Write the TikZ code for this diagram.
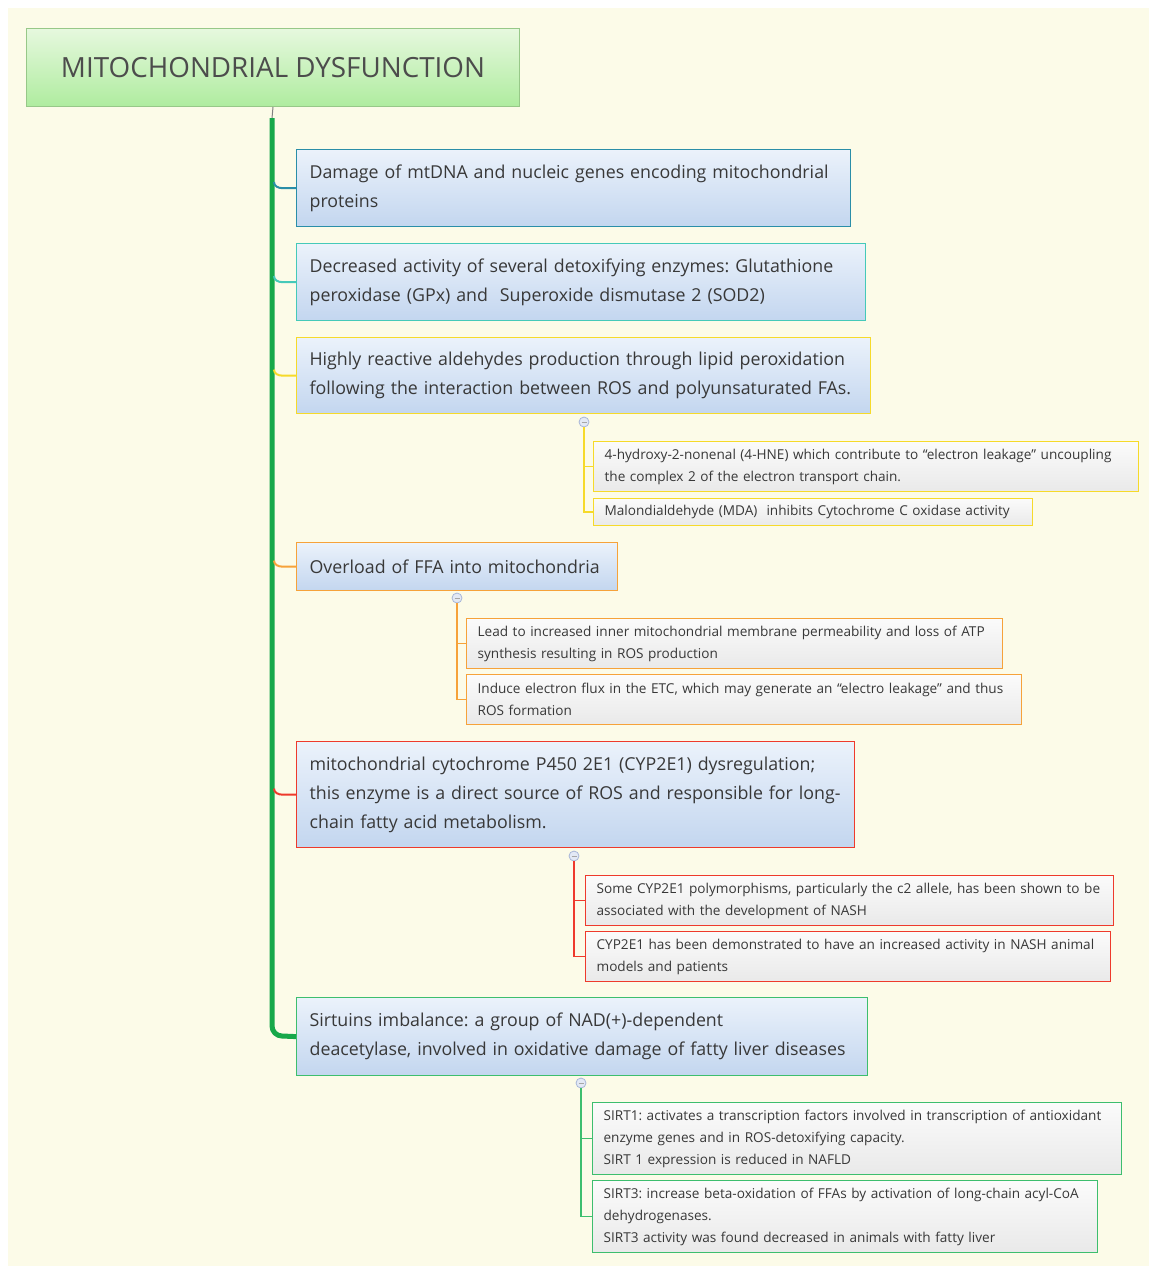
\documentclass[tikz,border=0pt]{standalone}
\usepackage{fontspec}
\setmainfont{Open Sans}
\frenchspacing
\definecolor{cream}{HTML}{FCFBE8}
\definecolor{txt}{HTML}{383838}
\definecolor{titletop}{HTML}{E6F8DE}
\definecolor{titlebot}{HTML}{AFEC9F}
\definecolor{titleborder}{HTML}{97C888}
\definecolor{bigtop}{HTML}{EBF2FB}
\definecolor{bigbot}{HTML}{C3D6EF}
\definecolor{smalltop}{HTML}{FBFBFB}
\definecolor{smallbot}{HTML}{E9E9E9}
\definecolor{trunkgreen}{HTML}{17A84A}
\definecolor{bA}{HTML}{2A8EA8}
\definecolor{bB}{HTML}{45C9B9}
\definecolor{bC}{HTML}{F6DA2A}
\definecolor{bD}{HTML}{F6A23A}
\definecolor{bE}{HTML}{EE3A2C}
\definecolor{bF}{HTML}{3DBE6E}
\definecolor{knob}{HTML}{E3E9F5}
\definecolor{knobborder}{HTML}{A8B6D8}
\tikzset{
  bigbox/.style={draw, line width=1.2pt, top color=bigtop, bottom color=bigbot,
    anchor=north west, inner xsep=13pt, inner ysep=0pt, text=txt, align=left,
    font=\fontsize{17.8}{29}\selectfont\frenchspacing},
  smallbox/.style={draw, line width=1.2pt, top color=smalltop, bottom color=smallbot,
    anchor=north west, inner xsep=11pt, inner ysep=0pt, text=txt, align=left,
    font=\fontsize{13.6}{22}\selectfont\frenchspacing},
  branch/.style={line width=2pt},
  twig/.style={line width=1.4pt},
  knobnode/.style={circle, draw=knobborder, fill=knob, line width=0.8pt,
    minimum size=10pt, inner sep=0pt},
  minus/.style={draw=gray!70, line width=0.9pt}
}
\begin{document}
\begin{tikzpicture}[x=1pt,y=-1pt]
\useasboundingbox (0,0) rectangle (1149,1266);
\fill[cream] (8,8) rectangle (1149,1266);

% title
\node[draw=titleborder, line width=1pt, top color=titletop, bottom color=titlebot,
  anchor=north west, minimum width=493pt, minimum height=78pt, inner sep=0pt,
  text=txt!90, font=\fontsize{27.8}{32}\selectfont] (title) at (26,28)
  {MITOCHONDRIAL DYSFUNCTION};

% main boxes
\node[bigbox, draw=bA, text width=528pt, minimum height=77pt] (n1) at (296,149)
  {Damage of mtDNA and nucleic genes encoding mitochondrial\\proteins};
\node[bigbox, draw=bB, text width=543pt, minimum height=77pt] (n2) at (296,243)
  {Decreased activity of several detoxifying enzymes: Glutathione\\peroxidase (GPx) and\ \ Superoxide dismutase 2 (SOD2)};
\node[bigbox, draw=bC, text width=548pt, minimum height=76pt] (n3) at (296,337)
  {Highly reactive aldehydes production through lipid peroxidation\\following the interaction between ROS and polyunsaturated FAs.};
\node[bigbox, draw=bD, text width=295pt, minimum height=48pt] (n4) at (296,542)
  {Overload of FFA into mitochondria};
\node[bigbox, draw=bE, text width=532pt, minimum height=106pt] (n5) at (296,741)
  {\mbox{mitochondrial cytochrome P450 2E1 (CYP2E1) dysregulation;}\\\mbox{this enzyme is a direct source of ROS and responsible for long-}\\\mbox{chain fatty acid metabolism.}};
\node[bigbox, draw=bF, text width=545pt, minimum height=78pt] (n6) at (296,997)
  {Sirtuins imbalance: a group of NAD(+)-dependent\\deacetylase, involved in oxidative damage of fatty liver diseases};

% trunk
\coordinate (tt) at (272,118);
\coordinate (tb) at (272,1026);
\draw[gray, line width=1pt] (title.south) -- (tt);
\draw[trunkgreen, line width=5pt] (tt) -- (tb) to[out=-90,in=180] (282,1036) -- (n6.west);

% branch connectors
\foreach \n/\c in {n1/bA, n2/bB, n3/bC, n4/bD, n5/bE}{
  \coordinate (j\n) at (tt |- \n.west);
  \draw[branch, \c] (j\n) ++(2,-6) to[out=-90,in=180] ++(8,6) -- (\n.west);
}

% children of n3
\node[smallbox, draw=bC, text width=523pt, minimum height=50pt] (c3a) at (593,441)
  {4-hydroxy-2-nonenal (4-HNE) which contribute to “electron leakage” uncoupling\\the complex 2 of the electron transport chain.};
\node[smallbox, draw=bC, text width=417pt, minimum height=27pt] (c3b) at (593,498)
  {Malondialdehyde (MDA)\ \ inhibits Cytochrome C oxidase activity};
\node[knobnode] (k3) at (584,422) {};
\draw[twig, bC] (k3.south) |- (c3b.west);
\draw[twig, bC] (k3 |- c3a.west) -- (c3a.west);
\draw[minus] ([xshift=-2.5pt]k3.center) -- ([xshift=2.5pt]k3.center);

% children of n4
\node[smallbox, draw=bD, text width=514pt, minimum height=50pt] (c4a) at (466,618)
  {Lead to increased inner mitochondrial membrane permeability and loss of ATP\\synthesis resulting in ROS production};
\node[smallbox, draw=bD, text width=533pt, minimum height=50pt] (c4b) at (466,674)
  {Induce electron flux in the ETC, which may generate an “electro leakage” and thus\\ROS formation};
\node[knobnode] (k4) at (457,598) {};
\draw[twig, bD] (k4.south) |- (c4b.west);
\draw[twig, bD] (k4 |- c4a.west) -- (c4a.west);
\draw[minus] ([xshift=-2.5pt]k4.center) -- ([xshift=2.5pt]k4.center);

% children of n5
\node[smallbox, draw=bE, text width=506pt, minimum height=50pt] (c5a) at (585,875)
  {Some CYP2E1 polymorphisms, particularly the c2 allele, has been shown to be\\associated with the development of NASH};
\node[smallbox, draw=bE, text width=503pt, minimum height=50pt] (c5b) at (585,931)
  {CYP2E1 has been demonstrated to have an increased activity in NASH animal\\models and patients};
\node[knobnode] (k5) at (574,856) {};
\draw[twig, bE] (k5.south) |- (c5b.west);
\draw[twig, bE] (k5 |- c5a.west) -- (c5a.west);
\draw[minus] ([xshift=-2.5pt]k5.center) -- ([xshift=2.5pt]k5.center);

% children of n6
\node[smallbox, draw=bF, text width=507pt, minimum height=72pt] (c6a) at (592,1102)
  {SIRT1: activates a transcription factors involved in transcription of antioxidant\\enzyme genes and in ROS-detoxifying capacity.\\SIRT 1 expression is reduced in NAFLD};
\node[smallbox, draw=bF, text width=483pt, minimum height=72pt] (c6b) at (592,1180)
  {SIRT3: increase beta-oxidation of FFAs by activation of long-chain acyl-CoA\\dehydrogenases.\\SIRT3 activity was found decreased in animals with fatty liver};
\node[knobnode] (k6) at (581,1083) {};
\draw[twig, bF] (k6.south) |- (c6b.west);
\draw[twig, bF] (k6 |- c6a.west) -- (c6a.west);
\draw[minus] ([xshift=-2.5pt]k6.center) -- ([xshift=2.5pt]k6.center);
\end{tikzpicture}
\end{document}
